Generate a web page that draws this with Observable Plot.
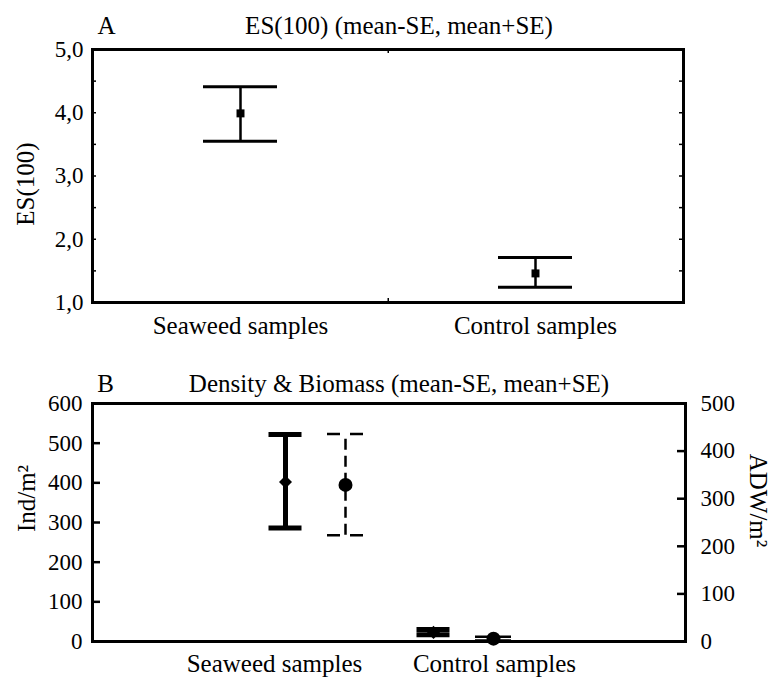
<!DOCTYPE html>
<html><head><meta charset="utf-8">
<script src="https://cdn.jsdelivr.net/npm/d3@7"></script>
<script src="https://cdn.jsdelivr.net/npm/@observablehq/plot@0.6"></script>
<style>
body{margin:0;background:#fff}
svg{display:block}
svg text{font-family:"Liberation Serif","Times New Roman","DejaVu Serif",serif !important}
</style>
</head><body><div id="chart"></div>
<script>
// ---- data ----
const categories = ["Seaweed samples", "Control samples"];
// Panel A: ES(100)
const esMean = [3.99, 1.46];
const esLow  = [3.55, 1.24];
const esHigh = [4.41, 1.71];
const esTicks = [1, 2, 3, 4, 5];
const esMinorTicks = [1.5, 2.5, 3.5, 4.5];
// Panel B: density (Ind/m2, left axis) & biomass (ADW/m2, right axis)
const densMean = [402, 23];
const densLow  = [286, 17];
const densHigh = [522, 30];
const bioMean  = [329, 6];
const bioLow   = [223, 2];
const bioHigh  = [436, 10];
const densTicks = [0, 100, 200, 300, 400, 500, 600];
const bioTicks  = [0, 100, 200, 300, 400, 500];

const FONT = "'Liberation Serif', 'Times New Roman', 'DejaVu Serif', serif";
const W = 771;
const fs = 25, tfs = 23;
const txt = {fontFamily: FONT, fill: "black", lineAnchor: "middle", textAnchor: "middle"};

// ---- Panel A ----
const A = {h: 345, ml: 92, mr: 88, mt: 49, mb: 43};
const aFW = W - A.ml - A.mr, aFH = A.h - A.mt - A.mb;
const dataA = categories.map((c, i) => ({cat: c, mean: esMean[i], low: esLow[i], high: esHigh[i]}));
const fmtComma = d => d.toFixed(1).replace(".", ",");

const plotA = Plot.plot({
  width: W, height: A.h,
  marginLeft: A.ml, marginRight: A.mr, marginTop: A.mt, marginBottom: A.mb,
  style: {fontFamily: FONT, fontSize: tfs + "px", color: "black", background: "white"},
  x: {type: "point", domain: categories, padding: 0.5, axis: null},
  y: {domain: [1, 5], axis: null},
  marks: [
    Plot.ruleY([...esTicks, ...esMinorTicks], {y: d => d, insetRight: aFW - 4, strokeWidth: 1.5}),
    Plot.ruleY([...esTicks, ...esMinorTicks], {y: d => d, insetLeft: aFW - 4, strokeWidth: 1.5}),
    Plot.ruleX([categories[0]], {x: d => d, insetBottom: aFH - 4, dx: aFW / 4, strokeWidth: 1.5}),
    Plot.ruleX([categories[0]], {x: d => d, insetTop: aFH - 4, dx: aFW / 4, strokeWidth: 1.5}),
    Plot.frame({stroke: "black", strokeWidth: 3}),
    Plot.axisY(esTicks, {anchor: "left", tickSize: 0, tickPadding: 9, tickFormat: fmtComma, label: null, fontSize: tfs, fontFamily: FONT, fill: "black"}),
    Plot.axisX(categories, {anchor: "bottom", tickSize: 0, tickPadding: 14, label: null, fontSize: fs, fontFamily: FONT, fill: "black"}),
    Plot.ruleX(dataA, {x: "cat", y1: "low", y2: "high", strokeWidth: 2.5}),
    Plot.ruleY(dataA, {x1: "cat", x2: "cat", y: "low", insetLeft: -37, insetRight: -37, strokeWidth: 3}),
    Plot.ruleY(dataA, {x1: "cat", x2: "cat", y: "high", insetLeft: -37, insetRight: -37, strokeWidth: 3}),
    Plot.dot(dataA, {x: "cat", y: "mean", symbol: "square", r: 4.5, fill: "black", stroke: null}),
    Plot.text(["A"], {...txt, frameAnchor: "top-left", dx: 14, dy: -24, fontSize: fs}),
    Plot.text(["ES(100) (mean-SE, mean+SE)"], {...txt, frameAnchor: "top", dx: 11, dy: -24, fontSize: fs}),
    Plot.text(["ES(100)"], {...txt, frameAnchor: "left", dx: -67, dy: 8, rotate: -90, fontSize: fs})
  ]
});

// ---- Panel B ----
const B = {h: 332, ml: 92, mr: 86, mt: 58, mb: 36};
const bFW = W - B.ml - B.mr, bFH = B.h - B.mt - B.mb;
const k = 600 / 500; // right-axis (biomass) to left-axis units
const dataB = categories.map((c, i) => ({
  cat: c,
  dMean: densMean[i], dLow: densLow[i], dHigh: densHigh[i],
  bMean: bioMean[i] * k, bLow: bioLow[i] * k, bHigh: bioHigh[i] * k
}));

const plotB = Plot.plot({
  width: W, height: B.h,
  marginLeft: B.ml, marginRight: B.mr, marginTop: B.mt, marginBottom: B.mb,
  style: {fontFamily: FONT, fontSize: tfs + "px", color: "black", background: "white"},
  x: {type: "point", domain: categories, padding: 1.49, axis: null},
  y: {domain: [0, 600], axis: null},
  marks: [
    Plot.ruleY(densTicks, {y: d => d, insetRight: bFW - 8, strokeWidth: 2.5}),
    Plot.ruleY(bioTicks.map(d => d * k), {y: d => d, insetLeft: bFW - 8, strokeWidth: 2.5}),
    Plot.frame({stroke: "black", strokeWidth: 3}),
    Plot.axisY(densTicks, {anchor: "left", tickSize: 0, tickPadding: 10, label: null, fontSize: tfs, fontFamily: FONT, fill: "black"}),
    Plot.axisY(bioTicks.map(d => d * k), {anchor: "right", tickSize: 0, tickPadding: 15, tickFormat: d => Math.round(d / k), label: null, fontSize: tfs, fontFamily: FONT, fill: "black"}),
    Plot.axisX([categories[0]], {anchor: "bottom", tickSize: 0, tickPadding: 13, dx: -41, label: null, fontSize: fs, fontFamily: FONT, fill: "black"}),
    Plot.axisX([categories[1]], {anchor: "bottom", tickSize: 0, tickPadding: 13, dx: 31, label: null, fontSize: fs, fontFamily: FONT, fill: "black"}),
    // density: solid thick
    Plot.ruleX(dataB, {x: "cat", y1: "dLow", y2: "dHigh", strokeWidth: 5, dx: -30}),
    Plot.ruleY(dataB, {x1: "cat", x2: "cat", y: "dLow", insetLeft: -16.5, insetRight: -16.5, strokeWidth: 5, dx: -30}),
    Plot.ruleY(dataB, {x1: "cat", x2: "cat", y: "dHigh", insetLeft: -16.5, insetRight: -16.5, strokeWidth: 5, dx: -30}),
    Plot.dot(dataB, {x: "cat", y: "dMean", symbol: "square", rotate: 45, r: 5.2, fill: "black", stroke: null, dx: -30}),
    // biomass: dashed
    Plot.ruleX(dataB, {x: "cat", y1: "bLow", y2: "bHigh", strokeWidth: 2.5, strokeDasharray: "11,6", dx: 30}),
    Plot.ruleY(dataB, {x1: "cat", x2: "cat", y: "bLow", insetLeft: -18, insetRight: -18, strokeWidth: 2.5, strokeDasharray: "13,10", dx: 30}),
    Plot.ruleY(dataB, {x1: "cat", x2: "cat", y: "bHigh", insetLeft: -18, insetRight: -18, strokeWidth: 2.5, strokeDasharray: "13,10", dx: 30}),
    Plot.dot(dataB, {x: "cat", y: "bMean", r: 7, fill: "black", stroke: null, dx: 30}),
    Plot.text(["B"], {...txt, frameAnchor: "top-left", dx: 13, dy: -20, fontSize: fs}),
    Plot.text(["Density & Biomass (mean-SE, mean+SE)"], {...txt, frameAnchor: "top", dx: 10, dy: -20, fontSize: fs}),
    Plot.text(["Ind/m²"], {...txt, frameAnchor: "left", dx: -66, dy: -24, rotate: -90, fontSize: fs}),
    Plot.text(["ADW/m²"], {...txt, frameAnchor: "right", dx: 72, dy: -22, rotate: 90, fontSize: fs})
  ]
});

const root = document.getElementById("chart");
root.appendChild(plotA);
root.appendChild(plotB);
</script>
</body></html>
